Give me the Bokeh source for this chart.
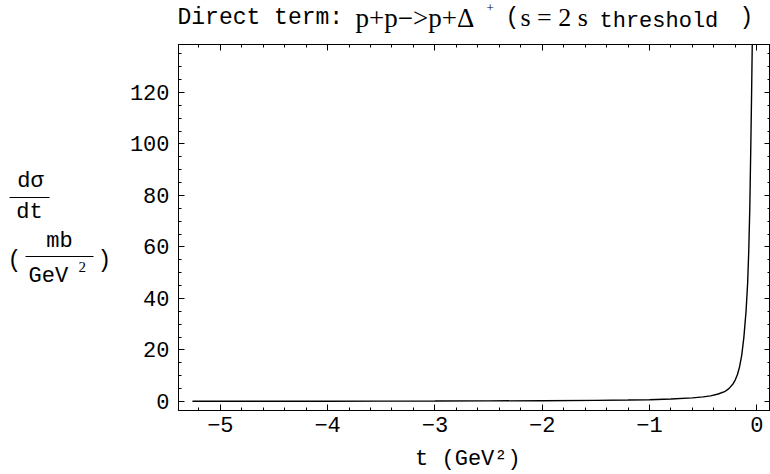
from bokeh.plotting import figure
from bokeh.models import Range1d, LinearAxis, SingleIntervalTicker
from bokeh.layouts import column, row
from bokeh.core.properties import value
from bokeh.embed import file_html
from bokeh.resources import INLINE

# ---- data ----
t_vals = [-5.26, -4.5, -4.0, -3.5, -3.0, -2.5, -2.0, -1.5, -1.2, -1.0, -0.8, -0.6,
          -0.5, -0.43, -0.36, -0.30, -0.26, -0.22, -0.20, -0.18, -0.16, -0.14,
          -0.12, -0.10, -0.085, -0.075, -0.065, -0.056, -0.048, -0.040]
dsig_vals = [0.08, 0.10, 0.12, 0.15, 0.18, 0.23, 0.30, 0.42, 0.55, 0.70, 0.95, 1.4,
             1.8, 2.2, 2.9, 3.8, 5.0, 6.9, 8.4, 10.5, 13.5, 18.0,
             25.0, 35.0, 46.0, 58.0, 75.0, 98.0, 120.0, 145.0]
x_limits = (-5.39, 0.128)
y_limits = (-3.5, 138.6)
x_tick_step = 1
y_tick_step = 20

MONO = "Liberation Mono"
SERIF = "Liberation Serif"
BLACK = "#000000"


def blank_fig(w, h):
    f = figure(width=w, height=h, x_range=Range1d(0, w), y_range=Range1d(h, 0),
               output_backend="svg", toolbar_location=None, min_border=0,
               x_axis_location=None, y_axis_location=None, title=None,
               frame_align=False)
    f.grid.visible = False
    f.outline_line_color = None
    return f


def txt(fig, x, y, s, font, size, align="left", style="normal"):
    fig.text(x=[x], y=[y], text=[s], text_font=value(font), text_font_size=size,
             text_align=align, text_baseline="alphabetic", text_color=BLACK,
             text_font_style=style)


# ---- title strip ----
top = blank_fig(770, 43)
txt(top, 177, 17, "Direct term:", MONO, "23px")
txt(top, 355, 17, "p+p\u2212>p+\u0394", SERIF, "27px")
txt(top, 486, 7, "+", SERIF, "13px")
txt(top, 505, 17, "(", MONO, "23px")
txt(top, 520, 17, "s = 2 s", SERIF, "26px")
txt(top, 599, 21, "threshold", MONO, "22px")
txt(top, 739, 17, ")", MONO, "23px")

# ---- y label strip ----
left = blank_fig(118, 431)
txt(left, 30, 138, "d\u03c3", MONO, "22px", align="center")
left.segment(x0=[9], y0=[154], x1=[49], y1=[154], line_color=BLACK, line_width=1)
txt(left, 29, 169, "dt", MONO, "22px", align="center")
txt(left, 14, 217, "(", MONO, "23px", align="center")
txt(left, 59, 198, "mb", MONO, "22px", align="center")
left.segment(x0=[25], y0=[213], x1=[93], y1=[213], line_color=BLACK, line_width=1)
txt(left, 28, 233, "GeV", MONO, "22px")
txt(left, 78, 223, "2", SERIF, "15px")
txt(left, 104, 217, ")", MONO, "23px", align="center")

# ---- main plot ----
p = figure(frame_width=592, frame_height=366, x_range=Range1d(*x_limits),
           y_range=Range1d(*y_limits), output_backend="svg", toolbar_location=None,
           min_border_left=60, min_border_right=0, min_border_top=1,
           min_border_bottom=64, title=None, frame_align=False)
p.grid.visible = False
p.outline_line_color = BLACK
p.outline_line_width = 1
p.background_fill_color = "white"
p.border_fill_color = "white"

p.line(t_vals, dsig_vals, line_color=BLACK, line_width=1.4)

for ax in p.xaxis:
    ax.ticker = SingleIntervalTicker(interval=x_tick_step, num_minor_ticks=5)
    ax.axis_label = "t  (GeV\u00b2)"
    ax.axis_label_text_font = MONO
    ax.axis_label_text_font_size = "22px"
    ax.axis_label_text_font_style = "normal"
    ax.axis_label_text_color = BLACK
    ax.axis_label_standoff = 12
for ax in p.yaxis:
    ax.ticker = SingleIntervalTicker(interval=y_tick_step, num_minor_ticks=4)
for ax in list(p.xaxis) + list(p.yaxis):
    ax.major_label_text_font = MONO
    ax.major_label_text_font_size = "22px"
    ax.major_label_text_color = BLACK
    ax.major_tick_in = 6
    ax.major_tick_out = 0
    ax.minor_tick_in = 3
    ax.minor_tick_out = 0
    ax.major_tick_line_color = BLACK
    ax.minor_tick_line_color = BLACK
    ax.axis_line_color = BLACK
p.xaxis.major_label_standoff = 6
p.yaxis.major_label_standoff = 9

ax_top = LinearAxis(ticker=SingleIntervalTicker(interval=x_tick_step, num_minor_ticks=5))
ax_right = LinearAxis(ticker=SingleIntervalTicker(interval=y_tick_step, num_minor_ticks=4))
for ax in (ax_top, ax_right):
    ax.major_label_text_font_size = "1px"
    ax.major_label_text_color = None
    ax.major_label_standoff = 0
    ax.major_tick_in = 6
    ax.major_tick_out = 0
    ax.minor_tick_in = 3
    ax.minor_tick_out = 0
    ax.major_tick_line_color = BLACK
    ax.minor_tick_line_color = BLACK
    ax.axis_line_color = BLACK
p.add_layout(ax_top, "above")
p.add_layout(ax_right, "right")

layout = column(top, row(left, p, spacing=0), spacing=0)

open("out.html", "w").write(file_html(layout, INLINE))
